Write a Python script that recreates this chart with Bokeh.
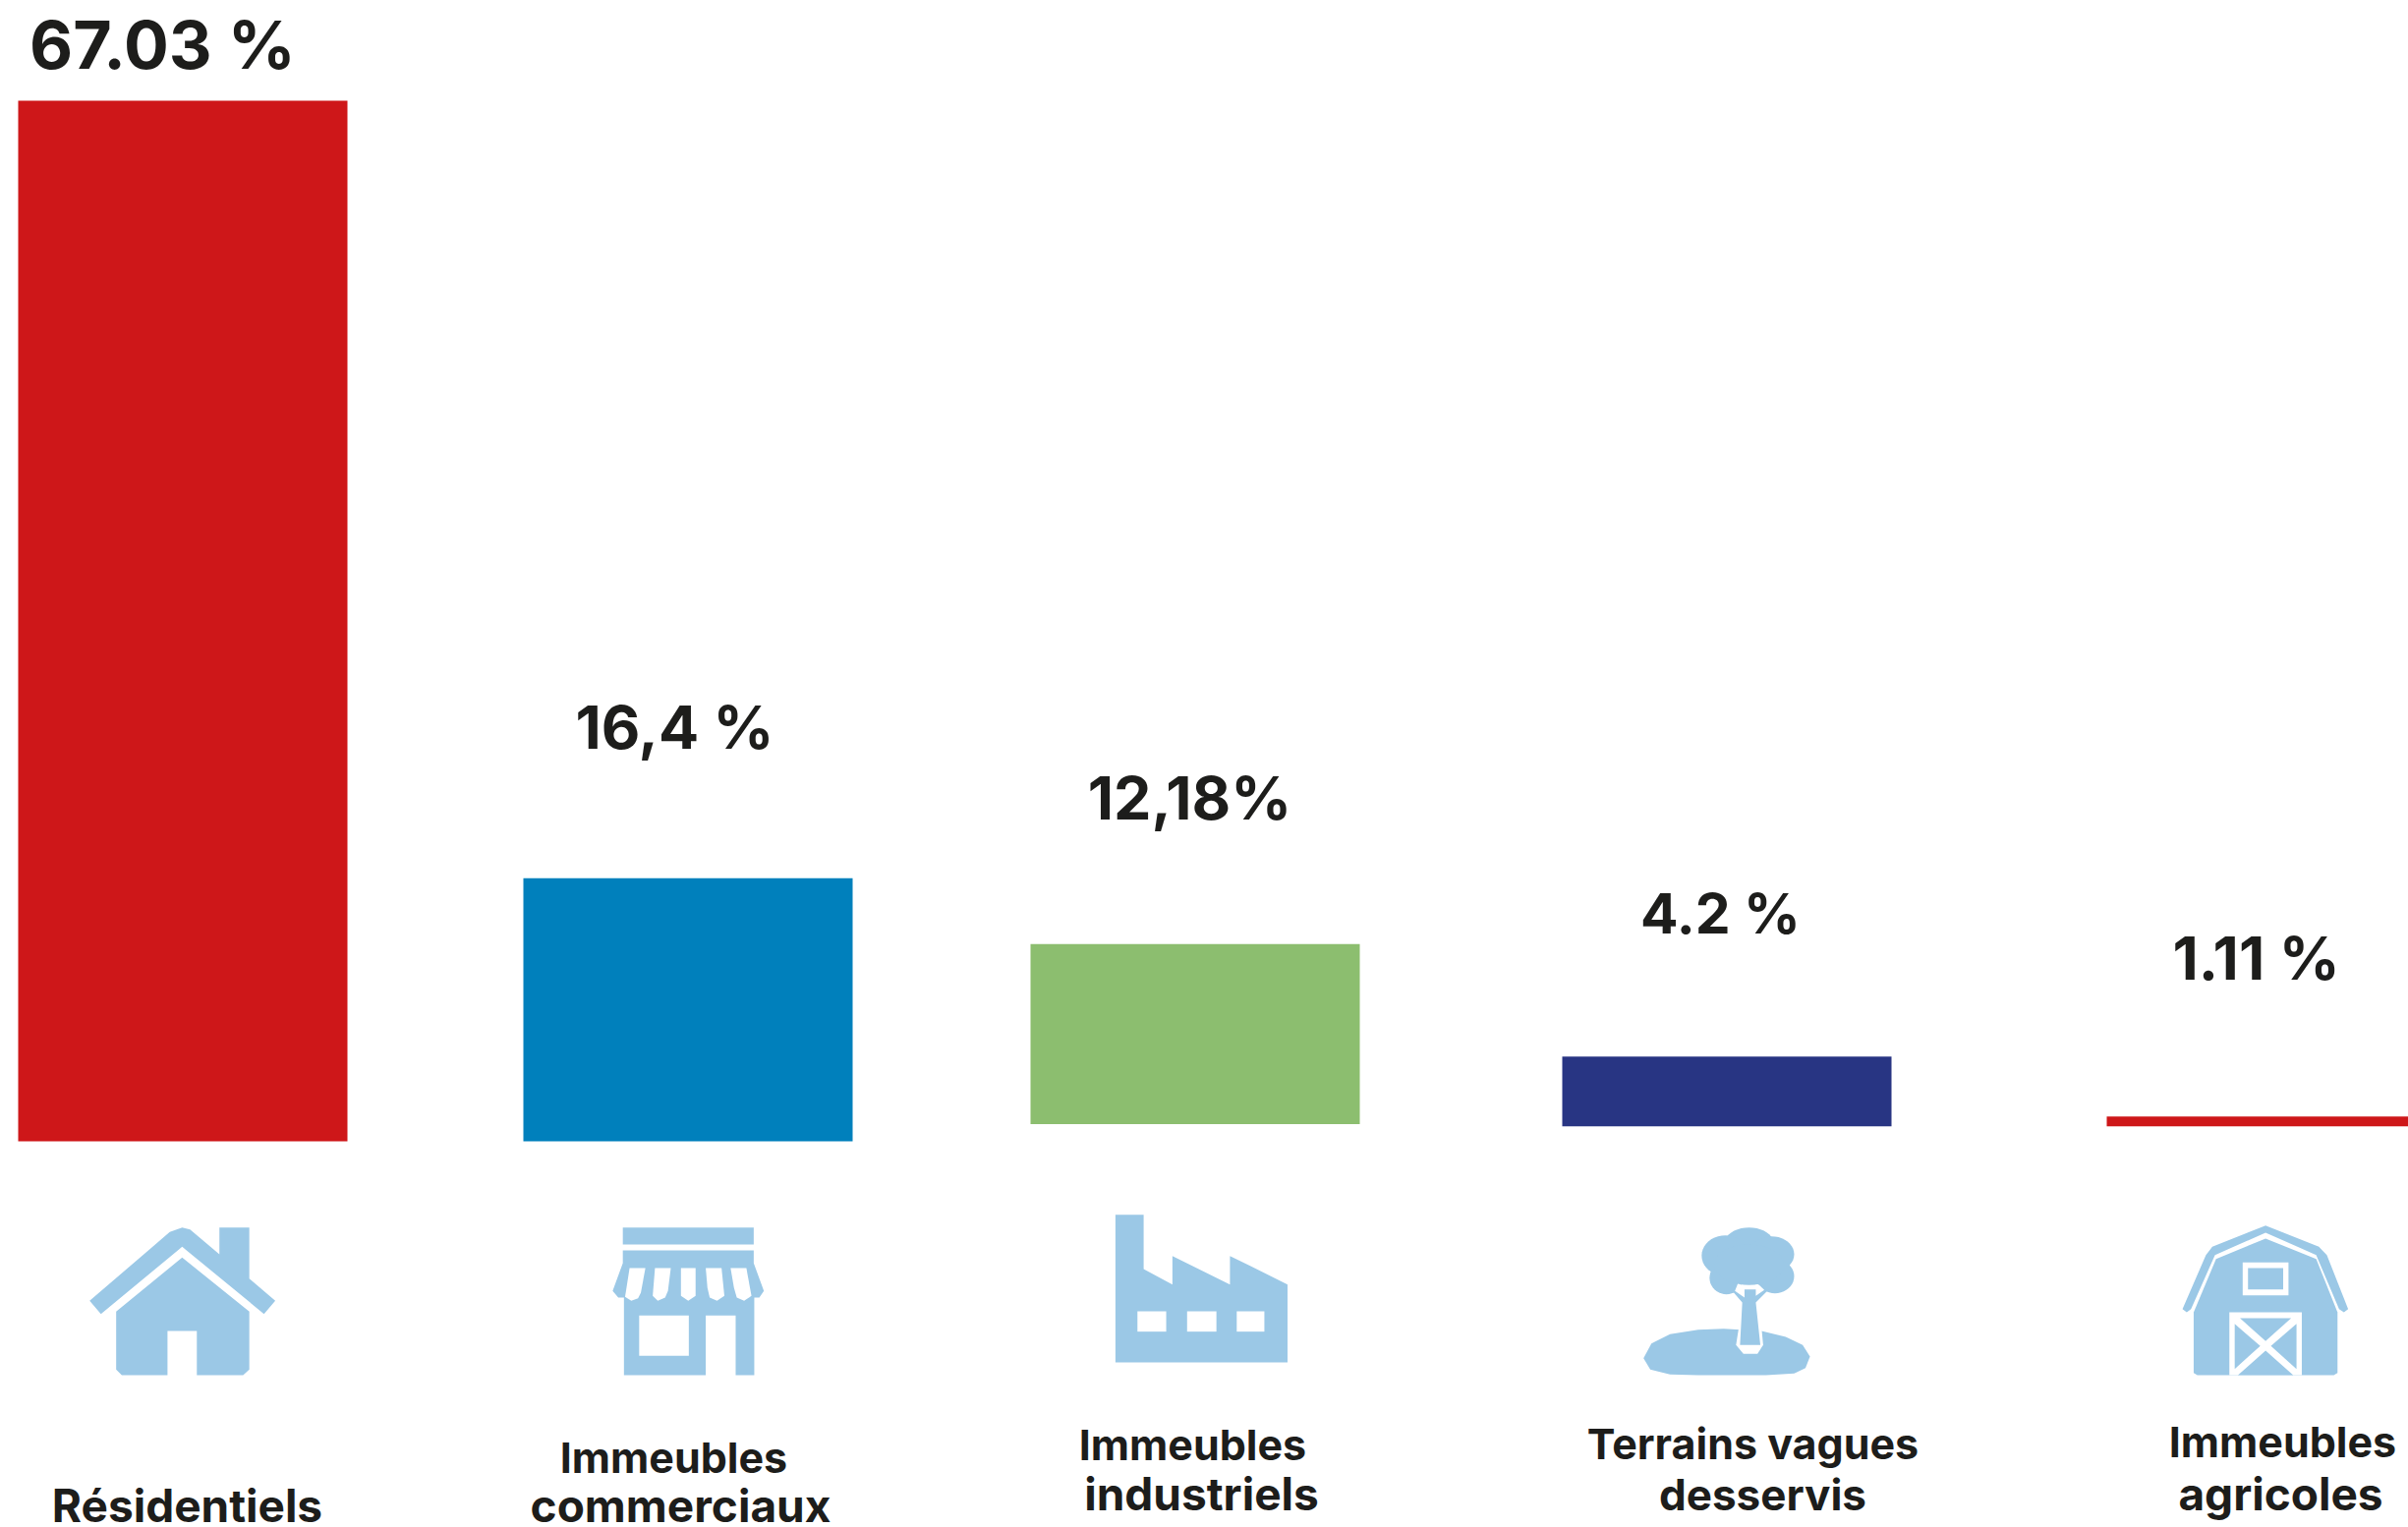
import numpy as np
from bokeh.plotting import figure
from bokeh.models import Range1d
from bokeh.core.properties import value
from bokeh.embed import file_html
from bokeh.resources import INLINE

categories = ["Résidentiels", "Immeubles commerciaux", "Immeubles industriels", "Terrains vagues desservis", "Immeubles agricoles"]
share_labels = ["67.03 %", "16,4 %", "12,18%", "4.2 %", "1.11 %"]
bar_tops = [67.03, 16.95, 12.7, 5.46, 1.6]
bar_bottoms = [0.0, 0.0, 1.1, 0.97, 0.97]
colors = ["#ce1719", "#0080bc", "#8cbe6f", "#283583", "#ce1719"]

PX = 15.8
BASE = 1161
W, H = 2450, 1554
FONT = "Inter"
INK = "#1d1d1b"
ICON = "#9bc8e6"
WHITE = "#ffffff"
SHIFT = 0.37

p = figure(width=W, height=H, output_backend="svg", toolbar_location=None,
           x_range=Range1d(0, W),
           y_range=Range1d((BASE - H) / PX, BASE / PX),
           min_border=0, outline_line_color=None)
p.axis.visible = False
p.grid.visible = False
p.background_fill_color = WHITE


def yv(py):
    return (BASE - py) / PX


bar_left = [18, 532, 1048, 1589, 2143]
bar_right = [353, 867, 1383, 1924, 2450]
p.quad(left=bar_left, right=bar_right, top=bar_tops, bottom=bar_bottoms,
       color=colors, line_color=None)


def shape(pts, color, ox, sx):
    p.patch([ox + a / sx for a, _ in pts],
            [yv(1150 + b / 3) for _, b in pts],
            fill_color=color, line_color=None)


def rect(x0, y0, x1, y1, color, ox, sx):
    shape([(x0, y0), (x1, y0), (x1, y1), (x0, y1)], color, ox, sx)


def lobe(cx, cy, rx, ry, color, ox, sx):
    t = np.linspace(0, 2 * np.pi, 40, endpoint=False)
    shape(list(zip(cx + rx * np.cos(t), cy + ry * np.sin(t))), color, ox, sx)


# house
s1 = (0, 1.742)
shape([(322, 296), (336, 302), (388, 378), (388, 296), (441, 296), (441, 452), (487, 520), (467, 560),
       (322, 355), (178, 560), (158, 520), (300, 310)], ICON, *s1)
shape([(322, 388), (441, 553), (441, 730), (430, 747), (348, 747), (348, 612), (296, 612), (296, 747),
       (215, 747), (205, 730), (205, 553)], ICON, *s1)
# shop
rect(1103, 296, 1335, 348, ICON, *s1)
shape([(1103, 366), (1335, 366), (1335, 405), (1353, 490), (1345, 510), (1336, 510), (1336, 747),
       (1303, 747), (1303, 565), (1250, 565), (1250, 747), (1105, 747), (1105, 510), (1095, 510),
       (1085, 490), (1103, 405)], ICON, *s1)
rect(1132, 565, 1220, 688, WHITE, *s1)
for st in ([(1115, 420), (1143, 420), (1135, 495), (1130, 512), (1118, 520), (1107, 508)],
           [(1160, 420), (1188, 420), (1183, 490), (1178, 510), (1165, 520), (1156, 505)],
           [(1206, 420), (1232, 420), (1232, 505), (1219, 520), (1206, 505)],
           [(1250, 420), (1278, 420), (1283, 505), (1270, 520), (1257, 510), (1253, 480)],
           [(1294, 420), (1322, 420), (1331, 505), (1318, 520), (1305, 510), (1300, 480)]):
    shape(st, WHITE, *s1)
# factory
s2 = (1050, 1.742)
shape([(147, 257), (197, 257), (197, 423), (248, 470), (248, 383), (350, 470), (350, 383), (452, 470),
       (452, 708), (147, 708)], ICON, *s2)
for a, b in ((186, 237), (274, 326), (362, 411)):
    rect(a, 552, b, 614, WHITE, *s2)
# tree
shape([(1225, 605), (1180, 608), (1130, 622), (1097, 650), (1083, 695), (1095, 730), (1130, 745),
       (1180, 747), (1300, 747), (1350, 742), (1370, 725), (1378, 690), (1365, 655), (1335, 630),
       (1292, 612)], ICON, *s2)
shape([(1252, 600), (1247, 655), (1260, 682), (1285, 682), (1295, 655), (1292, 600)], WHITE, *s2)
for cx, cy, rx, ry in ((1270, 350, 45, 54), (1228, 382, 42, 62), (1310, 378, 40, 55),
                       (1230, 450, 30, 50), (1316, 445, 34, 52), (1270, 410, 62, 62)):
    lobe(cx, cy, rx, ry, ICON, *s2)
shape([(1238, 485), (1258, 525), (1254, 655), (1290, 655), (1282, 525), (1305, 485)], ICON, *s2)
shape([(1250, 468), (1262, 473), (1262, 510), (1245, 490)], WHITE, *s2)
shape([(1282, 470), (1288, 472), (1297, 487), (1282, 505)], WHITE, *s2)
# barn
s3 = (1600, 1.845)
shape([(1300, 330), (1395, 392), (1435, 555), (1435, 740), (1428, 747), (1172, 747), (1165, 740),
       (1165, 555), (1207, 392)], ICON, *s3)
shape([(1300, 290), (1400, 355), (1415, 380), (1455, 545), (1447, 555), (1438, 545), (1395, 380),
       (1300, 312), (1205, 380), (1160, 545), (1152, 555), (1144, 545), (1188, 380), (1200, 355)], ICON, *s3)
rect(1257, 403, 1343, 503, WHITE, *s3)
rect(1267, 420, 1333, 485, ICON, *s3)
rect(1232, 555, 1368, 747, WHITE, *s3)
shape([(1252, 573), (1348, 573), (1300, 643)], ICON, *s3)
shape([(1242, 590), (1290, 658), (1242, 728)], ICON, *s3)
shape([(1358, 590), (1310, 658), (1358, 728)], ICON, *s3)
shape([(1300, 672), (1352, 747), (1248, 747)], ICON, *s3)

# labels
value_x = [165, 686, 1210, 1750, 2295]
value_base = [70, 762, 834, 950, 997]
value_size = [68, 61, 61, 57, 61]
p.text(x=value_x, y=[yv(b - SHIFT * s) for b, s in zip(value_base, value_size)], text=share_labels,
       text_font=value(FONT), text_font_style="bold", text_font_size=[f"{s}px" for s in value_size],
       text_color=INK, text_align="center", text_baseline="alphabetic")

name_lines = ["Résidentiels", "Immeubles", "commerciaux", "Immeubles", "industriels",
              "Terrains vagues", "desservis", "Immeubles", "agricoles"]
name_x = [190, 685, 692, 1213, 1222, 1783, 1793, 2322, 2320]
name_base = [1549, 1498, 1549, 1485, 1537, 1484, 1537, 1482, 1537]
name_size = [46, 43, 46, 43, 46, 43, 44, 43, 46]
p.text(x=name_x, y=[yv(b - SHIFT * s) for b, s in zip(name_base, name_size)], text=name_lines,
       text_font=value(FONT), text_font_style="bold", text_font_size=[f"{s}px" for s in name_size],
       text_color=INK, text_align="center", text_baseline="alphabetic")

open("out.html", "w").write(file_html(p, INLINE))
